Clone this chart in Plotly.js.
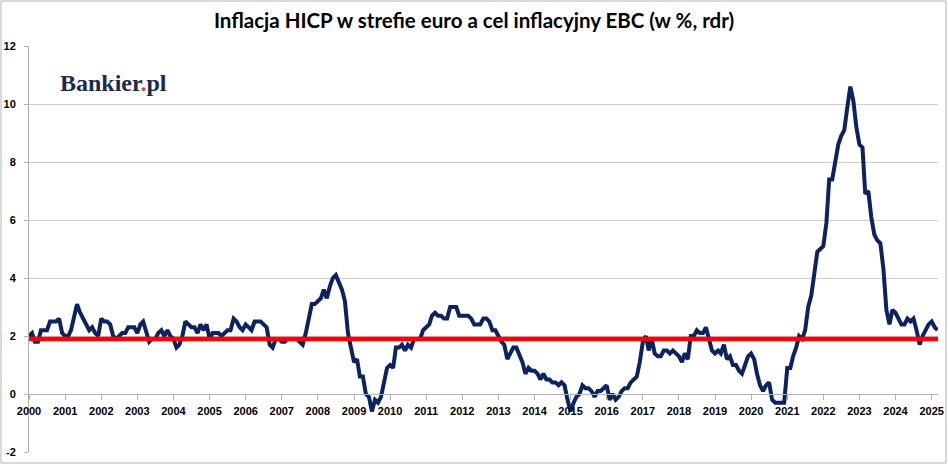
<!DOCTYPE html>
<html>
<head>
<meta charset="utf-8">
<script src="https://cdn.plot.ly/plotly-3.0.1.min.js"></script>
<style>
  html, body { margin: 0; padding: 0; background: #ffffff; }
  #chart { width: 948px; height: 469px; }
</style>
</head>
<body>
<div id="chart"></div>
<script>
// Euro area HICP inflation, % y/y, monthly (Jan 2000 - Mar 2025)
const hicp2000_2004 = [
  2.0, 2.1, 1.8, 1.8, 2.2, 2.2, 2.2, 2.5, 2.5, 2.5, 2.6, 2.1,
  2.0, 2.0, 2.2, 2.7, 3.1, 2.8, 2.6, 2.4, 2.2, 2.3, 2.1, 2.0,
  2.6, 2.5, 2.5, 2.4, 2.0, 1.9, 2.0, 2.1, 2.1, 2.3, 2.3, 2.3,
  2.1, 2.4, 2.5, 2.1, 1.8, 1.9, 1.9, 2.1, 2.2, 2.0, 2.2, 2.0,
  1.9, 1.6, 1.7, 2.0, 2.5, 2.4, 2.3, 2.3, 2.1, 2.4, 2.2, 2.4
];
const hicp2005_2009 = [
  1.9, 2.1, 2.1, 2.1, 2.0, 2.1, 2.2, 2.2, 2.6, 2.5, 2.3, 2.2,
  2.4, 2.3, 2.2, 2.5, 2.5, 2.5, 2.4, 2.3, 1.7, 1.6, 1.9, 1.9,
  1.8, 1.8, 1.9, 1.9, 1.9, 1.9, 1.8, 1.7, 2.1, 2.6, 3.1, 3.1,
  3.2, 3.3, 3.6, 3.3, 3.7, 4.0, 4.1, 3.8, 3.6, 3.2, 2.1, 1.6,
  1.1, 1.2, 0.6, 0.6, 0.0, -0.1, -0.6, -0.2, -0.3, -0.1, 0.5, 0.9
];
const hicp2010_2014 = [
  1.0, 0.9, 1.6, 1.6, 1.7, 1.5, 1.7, 1.6, 1.9, 1.9, 1.9, 2.2,
  2.3, 2.4, 2.7, 2.8, 2.7, 2.7, 2.6, 2.6, 3.0, 3.0, 3.0, 2.7,
  2.7, 2.7, 2.7, 2.6, 2.4, 2.4, 2.4, 2.6, 2.6, 2.5, 2.2, 2.2,
  2.0, 1.8, 1.7, 1.2, 1.4, 1.6, 1.6, 1.3, 1.1, 0.7, 0.9, 0.8,
  0.8, 0.7, 0.5, 0.7, 0.5, 0.5, 0.4, 0.4, 0.3, 0.4, 0.3, -0.2
];
const hicp2015_2019 = [
  -0.6, -0.3, -0.1, 0.0, 0.3, 0.2, 0.2, 0.1, -0.1, 0.1, 0.1, 0.2,
  0.3, -0.2, 0.0, -0.2, -0.1, 0.1, 0.2, 0.2, 0.4, 0.5, 0.6, 1.1,
  1.8, 2.0, 1.5, 1.9, 1.4, 1.3, 1.3, 1.5, 1.5, 1.4, 1.5, 1.4,
  1.3, 1.1, 1.4, 1.2, 2.0, 2.0, 2.2, 2.1, 2.1, 2.3, 1.9, 1.5,
  1.4, 1.5, 1.4, 1.7, 1.2, 1.3, 1.0, 1.0, 0.8, 0.7, 1.0, 1.3
];
const hicp2020_2025 = [
  1.4, 1.2, 0.7, 0.3, 0.1, 0.3, 0.4, -0.2, -0.3, -0.3, -0.3, -0.3,
  0.9, 0.9, 1.3, 1.6, 2.0, 1.9, 2.2, 3.0, 3.4, 4.1, 4.9, 5.0,
  5.1, 5.9, 7.4, 7.4, 8.1, 8.6, 8.9, 9.1, 9.9, 10.6, 10.1, 9.2,
  8.6, 8.5, 6.9, 7.0, 6.1, 5.5, 5.3, 5.2, 4.3, 2.9, 2.4, 2.9,
  2.8, 2.6, 2.4, 2.4, 2.6, 2.5, 2.6, 2.2, 1.7, 2.0, 2.2, 2.4,
  2.5, 2.3, 2.2
];
const ecbTarget = 1.9;
const yearLabels = ['2000','2001','2002','2003','2004','2005','2006','2007','2008',
  '2009','2010','2011','2012','2013','2014','2015','2016','2017','2018','2019',
  '2020','2021','2022','2023','2024','2025'];
const yTicks = [-2, 0, 2, 4, 6, 8, 10, 12];

const hicp = [].concat(hicp2000_2004, hicp2005_2009, hicp2010_2014, hicp2015_2019, hicp2020_2025);
const startYear = 2000;
const months = hicp.map((_, i) => {
  const y = startYear + Math.floor(i / 12);
  const m = (i % 12) + 1;
  return y + '-' + (m < 10 ? '0' + m : m) + '-01';
});
const tickDates = yearLabels.map(y => y + '-01-01');

const W = 948, H = 469;
const M = {l: 29, r: 10, t: 46, b: 17};
const pw = W - M.l - M.r, ph = H - M.t - M.b;
const px = v => (v - M.l) / pw;
const py = v => (H - M.b - v) / ph;

const axisFont = {family: 'Liberation Sans, Arial, sans-serif', size: 11, color: '#000000', weight: 'bold'};

const data = [{
  type: 'scatter',
  mode: 'lines',
  x: months,
  y: hicp,
  line: {color: '#0c2360', width: 4},
  hoverinfo: 'x+y'
}];

const layout = {
  width: W,
  height: H,
  margin: M,
  paper_bgcolor: '#ffffff',
  plot_bgcolor: '#ffffff',
  showlegend: false,
  title: {
    text: 'Inflacja HICP w strefie euro a cel inflacyjny EBC (w %, rdr)',
    font: {family: 'Lato, Open Sans, sans-serif', size: 20.5, color: '#000000', weight: 'bold'},
    x: 0.5, xref: 'container', xanchor: 'center',
    y: 1 - 21 / H, yref: 'container', yanchor: 'middle'
  },
  xaxis: {
    type: 'date',
    range: ['2000-01-01', '2025-03-06'],
    anchor: 'free',
    position: 2 / 14,
    tickvals: tickDates,
    ticktext: yearLabels,
    showgrid: false,
    zeroline: false,
    showline: true,
    linecolor: '#b0b0b0',
    linewidth: 1,
    ticks: 'outside',
    ticklen: 5,
    tickcolor: '#b0b0b0',
    tickfont: axisFont,
    ticklabelstandoff: 2
  },
  yaxis: {
    range: [-2, 12],
    tickvals: yTicks,
    ticktext: yTicks.map(String),
    showgrid: true,
    gridcolor: '#cccccc',
    gridwidth: 1,
    zeroline: false,
    showline: true,
    linecolor: '#b0b0b0',
    linewidth: 1,
    ticks: 'outside',
    ticklen: 4,
    tickcolor: '#b0b0b0',
    tickfont: axisFont,
    ticklabelstandoff: 6
  },
  shapes: [
    {type: 'rect', xref: 'paper', yref: 'paper', x0: px(33), x1: px(192), y0: py(110), y1: py(52),
     fillcolor: '#ffffff', line: {width: 0}, layer: 'between'},
    {type: 'line', xref: 'paper', yref: 'y', x0: 0, x1: 1, y0: ecbTarget, y1: ecbTarget,
     line: {color: '#ff0000', width: 4.5}, layer: 'above'},
    {type: 'rect', xref: 'paper', yref: 'paper', x0: px(1), x1: px(946), y0: py(463), y1: py(1),
     fillcolor: 'rgba(0,0,0,0)', line: {color: '#b4b4b4', width: 1}, layer: 'above'}
  ],
  annotations: [{
    xref: 'paper', yref: 'paper', x: px(113), y: py(83), xanchor: 'center', yanchor: 'middle',
    text: 'Bankier<span style="color:#e4451f">.</span>pl',
    showarrow: false,
    font: {family: 'Liberation Serif, DejaVu Serif, serif', size: 24, color: '#1b2a4c', weight: 'bold'}
  }]
};

Plotly.newPlot('chart', data, layout, {displayModeBar: false, staticPlot: true});
</script>
</body>
</html>
